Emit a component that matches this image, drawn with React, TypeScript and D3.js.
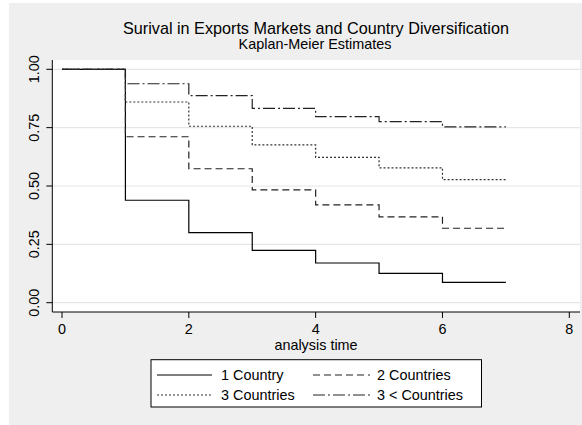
import React from "react";
import * as d3 from "d3";

const times = [0, 1, 2, 3, 4, 5, 6, 7];
const oneCountry = [1.0, 0.439, 0.30, 0.224, 0.17, 0.126, 0.087];
const twoCountries = [1.0, 0.711, 0.574, 0.483, 0.419, 0.368, 0.319];
const threeCountries = [1.0, 0.86, 0.756, 0.676, 0.623, 0.578, 0.527];
const moreCountries = [1.0, 0.938, 0.887, 0.833, 0.797, 0.776, 0.753];
const seriesNames = ["1 Country", "2 Countries", "3 Countries", "3 < Countries"];
const xTicks = [0, 2, 4, 6, 8];
const yTicks = [0, 0.25, 0.5, 0.75, 1];

const W = 582, H = 425;
const font = "'Liberation Sans', Arial, Helvetica, sans-serif";

export default function App() {
  const x = d3.scaleLinear().domain([0, 8]).range([62, 569.3]);
  const y = d3.scaleLinear().domain([0, 1]).range([302.7, 69.3]);
  const plotL = 52.3, plotR = 580, plotT = 60, plotB = 312;

  const styles = [
    { dash: "none", color: "#000", w: 1.2 },
    { dash: "7,4", color: "#222", w: 1.2 },
    { dash: "2,2", color: "#333", w: 1.2 },
    { dash: "12,3,2,3", color: "#222", w: 1.2 },
  ];
  const all = [oneCountry, twoCountries, threeCountries, moreCountries];

  const line = d3
    .line<[number, number]>()
    .x((d) => x(d[0]))
    .y((d) => y(d[1]))
    .curve(d3.curveStepAfter);

  const pathFor = (vals: number[]) => {
    const pts: [number, number][] = vals.map((v, i) => [times[i], v]);
    pts.push([times[times.length - 1], vals[vals.length - 1]]);
    return line(pts) || "";
  };

  const legendItems = [
    { i: 0, lx1: 157, lx2: 212, tx: 221, ty: 375 },
    { i: 1, lx1: 313, lx2: 370, tx: 377, ty: 375 },
    { i: 2, lx1: 157, lx2: 212, tx: 221, ty: 395 },
    { i: 3, lx1: 313, lx2: 370, tx: 377, ty: 395 },
  ];

  return (
    <svg
      width={W}
      height={H}
      style={{ position: "absolute", left: 0, top: 0, background: "#fff" }}
      fontFamily={font}
    >
      <rect x={9} y={3} width={W - 9} height={H - 3} fill="#efefef" />
      <rect x={plotL} y={plotT} width={plotR - plotL} height={plotB - plotT} fill="#fff" />
      {yTicks.map((t) => (
        <line key={"g" + t} x1={plotL} x2={plotR} y1={y(t)} y2={y(t)} stroke="#e6e6e6" strokeWidth={1.2} />
      ))}
      <line x1={plotL} x2={plotL} y1={plotT} y2={plotB} stroke="#000" strokeWidth={1} />
      <line x1={plotL} x2={plotR} y1={plotB} y2={plotB} stroke="#000" strokeWidth={1} />
      {yTicks.map((t) => (
        <g key={"y" + t}>
          <line x1={plotL - 6} x2={plotL} y1={y(t)} y2={y(t)} stroke="#000" />
          <text
            transform={`translate(${38.5},${y(t)}) rotate(-90)`}
            textAnchor="middle"
            fontSize={14.4}
            fill="#000"
          >
            {t.toFixed(2)}
          </text>
        </g>
      ))}
      {xTicks.map((t) => (
        <g key={"x" + t}>
          <line x1={x(t)} x2={x(t)} y1={plotB} y2={plotB + 6} stroke="#000" />
          <text x={x(t)} y={334} textAnchor="middle" fontSize={14.4} fill="#000">
            {t}
          </text>
        </g>
      ))}
      <text x={316} y={349.5} textAnchor="middle" fontSize={14.4} fill="#000">
        analysis time
      </text>
      <text x={316} y={34} textAnchor="middle" fontSize={16.2} fill="#000">
        Surival in Exports Markets and Country Diversification
      </text>
      <text x={315} y={48.5} textAnchor="middle" fontSize={14.4} fill="#000">
        Kaplan-Meier Estimates
      </text>
      {all.map((vals, i) => (
        <path
          key={"s" + i}
          d={pathFor(vals)}
          fill="none"
          stroke={styles[i].color}
          strokeWidth={styles[i].w}
          strokeDasharray={styles[i].dash}
        />
      ))}
      <rect x={151} y={359.7} width={330.5} height={47.3} fill="#fff" stroke="#000" strokeWidth={1} />
      {legendItems.map((it) => (
        <g key={"l" + it.i}>
          <line
            x1={it.lx1}
            x2={it.lx2}
            y1={it.ty}
            y2={it.ty}
            stroke={styles[it.i].color}
            strokeWidth={styles[it.i].w}
            strokeDasharray={styles[it.i].dash}
          />
          <text x={it.tx} y={it.ty + 5} fontSize={14.4} fill="#000">
            {seriesNames[it.i]}
          </text>
        </g>
      ))}
    </svg>
  );
}
